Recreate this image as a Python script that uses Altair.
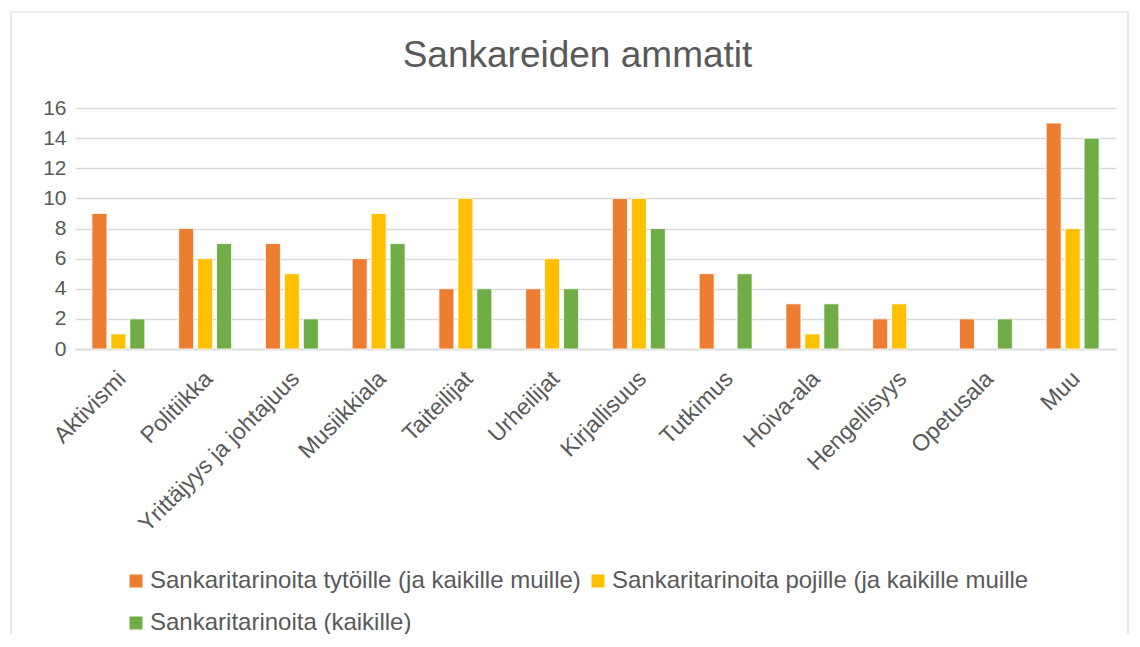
import altair as alt
import pandas as pd

categories = ["Aktivismi", "Politiikka", "Yrittäjyys ja johtajuus", "Musiikkiala",
              "Taiteilijat", "Urheilijat", "Kirjallisuus", "Tutkimus", "Hoiva-ala",
              "Hengellisyys", "Opetusala", "Muu"]
series = ["Sankaritarinoita tytöille (ja kaikille muille)",
          "Sankaritarinoita pojille (ja kaikille muille",
          "Sankaritarinoita (kaikille)"]
girls = [9, 8, 7, 6, 4, 4, 10, 5, 3, 2, 2, 15]
boys = [1, 6, 5, 9, 10, 6, 10, 0, 1, 3, 0, 8]
everyone = [2, 7, 2, 7, 4, 4, 8, 5, 3, 0, 2, 14]
colors = ["#ED7D31", "#FFC000", "#70AD47"]
y_ticks = [0, 2, 4, 6, 8, 10, 12, 14, 16]
title_text = "Sankareiden ammatit"

rows = []
for s, vals in zip(series, [girls, boys, everyone]):
    for c, v in zip(categories, vals):
        rows.append({"category": c, "series": s, "value": v})
df = pd.DataFrame(rows)

FONT = "Liberation Sans"
GREY = "#595959"

bars = alt.Chart(df).transform_filter(alt.datum.value > 0).mark_bar(
    stroke="white", strokeWidth=0.8
).encode(
    x=alt.X("category:N", sort=categories, title=None,
            scale=alt.Scale(paddingInner=0.39, paddingOuter=0.195),
            axis=alt.Axis(labelAngle=-45, labelAlign="right", labelBaseline="top",
                          labelPadding=18, labelOffset=-4, labelFontSize=23,
                          labelFont=FONT, labelColor=GREY, ticks=False,
                          domainColor="#d9d9d9", domainWidth=1.5, grid=False,
                          labelLimit=400)),
    xOffset=alt.XOffset("series:N", sort=series,
                        scale=alt.Scale(paddingInner=0.21, paddingOuter=0)),
    y=alt.Y("value:Q", title=None,
            scale=alt.Scale(domain=[0, 16], nice=False),
            axis=alt.Axis(values=y_ticks, labelFontSize=21, labelFont=FONT,
                          labelColor=GREY, ticks=False, domain=False,
                          gridColor="#d9d9d9", gridWidth=1.5, labelPadding=9)),
    color=alt.Color("series:N", sort=series,
                    scale=alt.Scale(domain=series, range=colors),
                    legend=alt.Legend(title=None, orient="none", legendX=49, legendY=461,
                                      columns=2, symbolType="square", symbolSize=169,
                                      symbolStrokeWidth=0, labelFontSize=24,
                                      labelFont=FONT, labelColor=GREY, labelLimit=0,
                                      rowPadding=18, columnPadding=5, labelOffset=2,
                                      direction="horizontal")),
)

border = alt.Chart(pd.DataFrame({"a": [0]})).mark_rect(
    fillOpacity=0, stroke="#d9d9d9", strokeWidth=1.2
).encode(
    x=alt.value(-64), x2=alt.value(1053), y=alt.value(-96), y2=alt.value(545)
)

title = alt.Chart(pd.DataFrame({"t": [title_text]})).mark_text(
    font=FONT, fontSize=37, color=GREY, align="center", baseline="alphabetic"
).encode(
    text="t:N", x=alt.value(502.5), y=alt.value(-41)
)

chart = alt.layer(border, bars, title).properties(
    width=1041, height=241,
    padding={"left": 67, "top": 100, "right": 16, "bottom": 285},
    autosize=alt.AutoSizeParams(type="none"),
).configure_view(stroke=None)

chart.save("out.html", embed_options={"renderer": "svg", "actions": False})
